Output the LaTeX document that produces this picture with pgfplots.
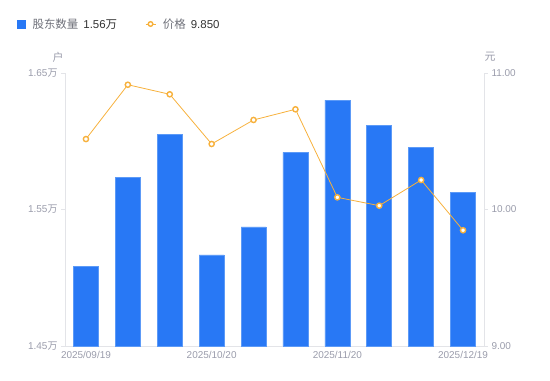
\documentclass[border=0pt]{standalone}
\usepackage{pgfplots}
\pgfplotsset{compat=1.18}
\usepackage{fontspec}
\setmainfont{Liberation Sans}
\newfontfamily\cjk{Noto Sans CJK SC}
\definecolor{barblue}{HTML}{2878F5}
\definecolor{baredge}{HTML}{5C9AF7}
\definecolor{lineorange}{HTML}{F7B13C}
\definecolor{ticktext}{HTML}{9A9CAB}
\definecolor{axisgray}{HTML}{E3E4E8}
\definecolor{legtext}{HTML}{6E7079}
\definecolor{legval}{HTML}{333333}
\begin{document}
\begin{tikzpicture}
\path[use as bounding box] (-65bp,-35bp) rectangle (485bp,346bp);
\begin{axis}[
  scale only axis, width=419bp, height=273bp,
  at={(0,0)}, anchor=south west,
  xmin=-0.5, xmax=9.5, ymin=1.45, ymax=1.65,
  axis x line*=bottom, axis y line*=left,
  axis line style={draw=axisgray, line width=0.8bp, -},
  xtick={0,3,6,9},
  xticklabels={2025/09/19,2025/10/20,2025/11/20,2025/12/19},
  x tick style={draw=none},
  ytick={1.45,1.55,1.65},
  yticklabels={1.45{\cjk 万},1.55{\cjk 万},1.65{\cjk 万}},
  y tick style={draw=axisgray, line width=0.8bp},
  tick align=outside, major tick length=4bp,
  tick label style={font=\fontsize{10}{12}\selectfont, text=ticktext},
  yticklabel style={xshift=0bp},
  xticklabel style={yshift=2bp},
  /pgf/number format/assume math mode=true,
  clip=false,
]
\addplot[ybar, bar width=25bp, fill=barblue, draw=baredge, line width=0.6bp, bar shift=0pt]
  coordinates {(0,1.5086) (1,1.5738) (2,1.6053) (3,1.5167) (4,1.5372) (5,1.5918) (6,1.6301) (7,1.6116) (8,1.5956) (9,1.5625)};
\node[font=\fontsize{11}{13}\cjk, text=ticktext] at (axis cs:-0.5,1.65) [xshift=-7bp, yshift=16bp] {户};
\end{axis}
\begin{axis}[
  scale only axis, width=419bp, height=273bp,
  at={(0,0)}, anchor=south west,
  xmin=-0.5, xmax=9.5, ymin=9, ymax=11,
  axis x line=none, axis y line*=right,
  axis line style={draw=axisgray, line width=0.8bp, -},
  ytick={9,10,11},
  yticklabels={9.00,10.00,11.00},
  y tick style={draw=axisgray, line width=0.8bp},
  tick align=outside, major tick length=4bp,
  tick label style={font=\fontsize{10}{12}\selectfont, text=ticktext},
  /pgf/number format/assume math mode=true,
  clip=false,
  legend style={at={(-51bp,322bp)}, anchor=west, draw=none, fill=none,
    font=\fontsize{11.5}{14}\selectfont, text=legtext,
    /tikz/every even column/.append style={column sep=26bp}},
  legend columns=2,
  legend cell align=left,
]
\addlegendimage{legend image code/.code={\fill[barblue] (0bp,-4bp) rectangle (8bp,4bp);}}
\addlegendentry{\hspace{5bp}{\cjk 股东数量}\hspace{5bp}{\color{legval}1.56{\cjk 万}}}
\addplot[lineorange, line width=0.8bp, mark=*, mark size=2.6bp,
  mark options={fill=white, draw=lineorange, line width=1.4bp},
  legend image code/.code={\draw[lineorange, line width=0.8bp] (0bp,0bp)--(10bp,0bp);
    \draw[lineorange, fill=white, line width=1.4bp] (5bp,0bp) circle (2.3bp);}]
  coordinates {(0,10.516) (1,10.914) (2,10.844) (3,10.48) (4,10.656) (5,10.734) (6,10.089) (7,10.028) (8,10.216) (9,9.848)};
\addlegendentry{\hspace{5bp}{\cjk 价格}\hspace{5bp}{\color{legval}9.850}}
\node[font=\fontsize{11}{13}\cjk, text=ticktext] at (axis cs:9.5,11) [xshift=6bp, yshift=16bp] {元};
\end{axis}
\end{tikzpicture}
\end{document}
